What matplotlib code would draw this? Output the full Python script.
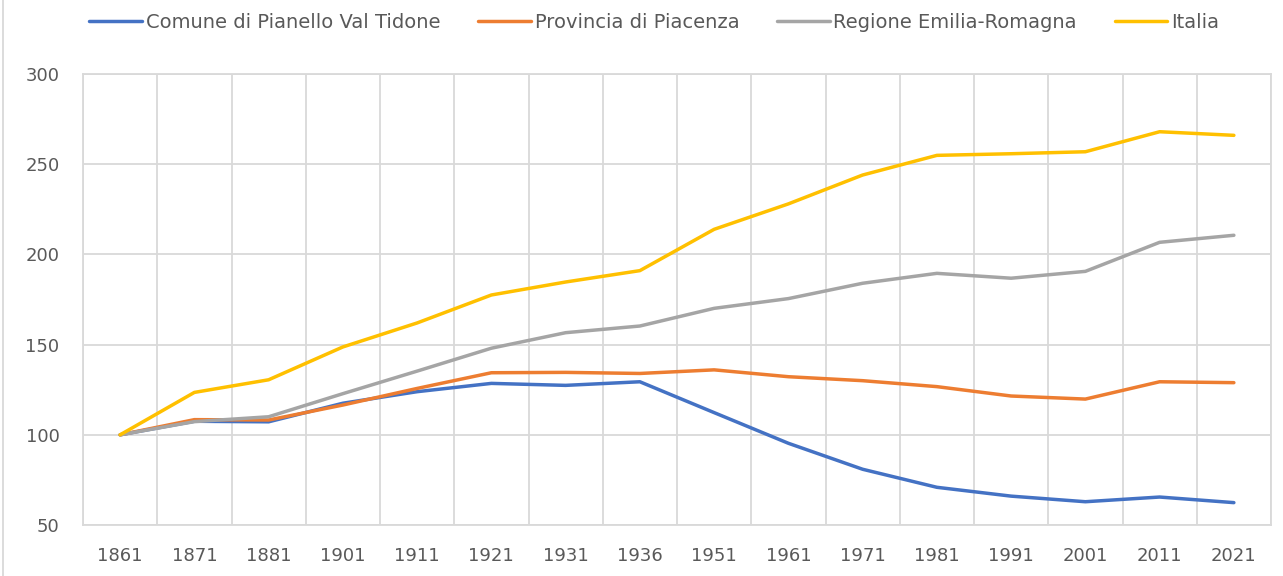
import numpy as np
import matplotlib
matplotlib.use("Agg")
import matplotlib.pyplot as plt
from matplotlib.lines import Line2D

plt.rcParams['font.family'] = ['DejaVu Sans']

# census years (category axis) and index values (1861 = 100)
years = ["1861", "1871", "1881", "1901", "1911", "1921", "1931", "1936",
         "1951", "1961", "1971", "1981", "1991", "2001", "2011", "2021"]
pianello = [100, 107.5, 107.2, 117.5, 123.9, 128.5, 127.4, 129.4,
            112.3, 95.3, 80.9, 70.9, 66.0, 62.9, 65.5, 62.4]
piacenza = [100, 108.4, 108.2, 116.5, 125.7, 134.4, 134.6, 134.0,
            136.0, 132.2, 130.0, 126.7, 121.5, 119.8, 129.4, 128.9]
emilia = [100, 107.3, 110.0, 122.8, 135.3, 148.0, 156.6, 160.3,
          170.1, 175.5, 184.0, 189.5, 186.8, 190.6, 206.7, 210.6]
italia = [100, 123.5, 130.5, 148.7, 162.0, 177.5, 184.7, 191.0,
          213.9, 228.0, 244.0, 254.9, 255.8, 256.9, 268.0, 266.0]

series_names = ["Comune di Pianello Val Tidone", "Provincia di Piacenza",
                "Regione Emilia-Romagna", "Italia"]
series_vals = [pianello, piacenza, emilia, italia]
series_cols = ["#4472C4", "#ED7D31", "#A5A5A5", "#FFC000"]

GRID = "#D9D9D9"
TXT = "#595959"

fig = plt.figure(figsize=(12.83, 5.76), dpi=100)
ax = fig.add_axes([83 / 1283, 1 - 525 / 576, (1271 - 83) / 1283, (525 - 74) / 576])

x = np.arange(len(years))
handles = []
for name, vals, col in zip(series_names, series_vals, series_cols):
    h, = ax.plot(x, vals, color=col, lw=2.5, label=name, solid_capstyle="round",
                 solid_joinstyle="round", zorder=3)
    handles.append(h)

ax.set_xlim(-0.5, len(years) - 0.5)
ax.set_ylim(50, 300)
ax.set_yticks([50, 100, 150, 200, 250, 300])
ax.set_xticks(x)
ax.set_xticklabels(years)
ax.set_xticks(np.arange(-0.5, len(years), 1), minor=True)

ax.grid(axis="y", which="major", color=GRID, lw=1.3, zorder=0)
ax.grid(axis="x", which="minor", color=GRID, lw=1.3, zorder=0)
ax.tick_params(axis="both", which="both", length=0, colors=TXT, labelsize=13)
ax.tick_params(axis="y", pad=17)
ax.tick_params(axis="x", pad=16)
for s in ax.spines.values():
    s.set_color(GRID)
    s.set_linewidth(1.3)

fig.legend(handles=handles, loc="center", bbox_to_anchor=(0.51, 1 - 22 / 576),
           ncol=4, frameon=False, fontsize=14, handlelength=2.7,
           handletextpad=0.2, columnspacing=1.95, labelcolor=TXT)

# chart area border on the left edge
fig.add_artist(Line2D([3 / 1283, 3 / 1283], [0, 1], color=GRID, lw=1.3,
                      transform=fig.transFigure))

fig.savefig("out.png", dpi=100)
